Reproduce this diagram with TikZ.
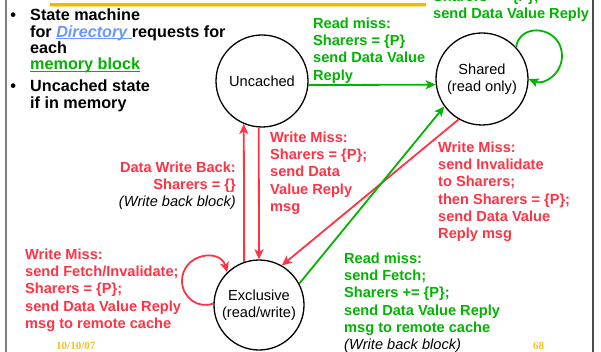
\documentclass[tikz,border=0pt]{standalone}
\usepackage{fontspec}
\setmainfont{Liberation Sans}
\newfontfamily\datefont{Liberation Serif}
\usetikzlibrary{arrows.meta}
\definecolor{cred}{RGB}{255,51,68}
\definecolor{cgreen}{RGB}{0,180,0}
\definecolor{cgold}{RGB}{242,184,0}
\definecolor{clight}{RGB}{255,226,120}
\definecolor{cblue}{RGB}{102,153,255}
\definecolor{cdate}{RGB}{242,192,40}
\newcommand\myul[2]{\leavevmode\setbox0\hbox{#2}\rlap{\rule[#1]{\wd0}{1.3pt}}\box0}
\begin{document}
\begin{tikzpicture}[x=1pt,y=-1pt,
  state/.style={circle, draw=black, line width=1.3pt, inner sep=0pt, align=center,
    font=\fontsize{14.6}{17.5}\selectfont},
  lbl/.style={inner sep=0pt, align=left, font=\fontsize{14.6}{17.3}\selectfont\bfseries},
  redlbl/.style={lbl, text=cred},
  greenlbl/.style={lbl, text=cgreen},
  bul/.style={inner sep=0pt, align=left, font=\fontsize{16.2}{16.2}\selectfont\bfseries},
  datestyle/.style={inner sep=0pt, text=cdate, font=\datefont\fontsize{11}{11}\selectfont\bfseries},
  tip/.style={-{Stealth[length=10pt,width=9pt,inset=2.5pt]}},
  redarrow/.style={draw=cred, line width=1.8pt, tip},
  greenarrow/.style={draw=cgreen, line width=1.8pt, tip}]
\useasboundingbox (0,0) rectangle (601,352);
\clip (0,0) rectangle (601,352);
\fill[white] (0,0) rectangle (601,352);
% frame and top rule
\draw[black!50, line width=1.5pt] (6,0) -- (6,352);
\draw[black!70, line width=1.2pt] (593,0) -- (593,352);
\fill[cgold] (50,3.5) rectangle (426,5.6);
\fill[clight] (50,6.2) rectangle (426,7.4);
% states
\node[state, minimum size=92pt] (uncached) at (262,81) {Uncached};
\node[state, minimum size=92pt] (shared) at (482,79) {Shared\\(read only)};
\node[state, minimum size=90pt] (excl) at (259,305) {Exclusive\\(read/write)};
% connectors
\draw[greenarrow] (uncached.-5) -- (shared.187);
\draw[greenarrow] (shared.43) .. controls (520,21) and (562,26.5) .. (562,56)
   .. controls (562,73.5) and (544.3,85.6) .. (shared.0);
\draw[redarrow] (excl.109.5) -- (uncached.-113);
\draw[redarrow] (uncached.-94) -- (excl.90);
\draw[redarrow] (shared.-120) -- (excl.60);
\draw[greenarrow] (excl.28) -- (shared.-144);
\draw[redarrow] (excl.178) .. controls (198.9,309.4) and (182,297.8) .. (182,281)
   .. controls (182,253.9) and (219.9,247.6) .. (excl.134);
% bullets
\node[bul, anchor=base west] (b1) at (10.2,20.7) {•};
\node[bul, anchor=base west] (b2) at (10.2,91.7) {•};
\node[bul, anchor=north west] (t1) at (30,9) {State machine\\
  for \textcolor{cblue}{\myul{-1.8pt}{\itshape Directory }}requests for\\
  each\\
  \textcolor{cgreen}{\myul{-2.6pt}{memory block}}};
\node[bul, anchor=north west] (t2) at (30,80) {Uncached state\\ if in memory};
% labels
\node[greenlbl, anchor=north west] (l1) at (313,17.6) {Read miss:\\ Sharers = \{P\}\\ send Data Value\\ Reply};
\node[greenlbl, anchor=north west] (l2) at (433,-27) {Read miss:\\ Sharers += \{P\};\\ send Data Value Reply};
\node[redlbl, anchor=north east, align=right] (l3) at (236,161.6) {Data Write Back:\\ Sharers = \{\}\\
  {\color{black}\mdseries\itshape (Write back block)}};
\node[redlbl, anchor=north west] (l4) at (270,131.6) {Write Miss:\\ Sharers = \{P\};\\ send Data\\ Value Reply\\ msg};
\node[redlbl, anchor=north west] (l5) at (438,141.6) {Write Miss:\\ send Invalidate\\ to Sharers;\\ then Sharers = \{P\};\\ send Data Value\\ Reply msg};
\node[redlbl, anchor=north west] (l6) at (25,248.6) {Write Miss:\\ send Fetch/Invalidate;\\ Sharers = \{P\};\\ send Data Value Reply\\ msg to remote cache};
\node[greenlbl, anchor=north west] (l7) at (344,252.6) {Read miss:\\ send Fetch;\\ Sharers += \{P\};\\ send Data Value Reply\\ msg to remote cache\\
  {\color{black}\mdseries\itshape (Write back block)}};
% footer
\node[datestyle, anchor=base west] (date) at (56,349.7) {10/10/07};
\node[datestyle, anchor=base west] (page) at (533,349.7) {68};
\end{tikzpicture}
\end{document}
